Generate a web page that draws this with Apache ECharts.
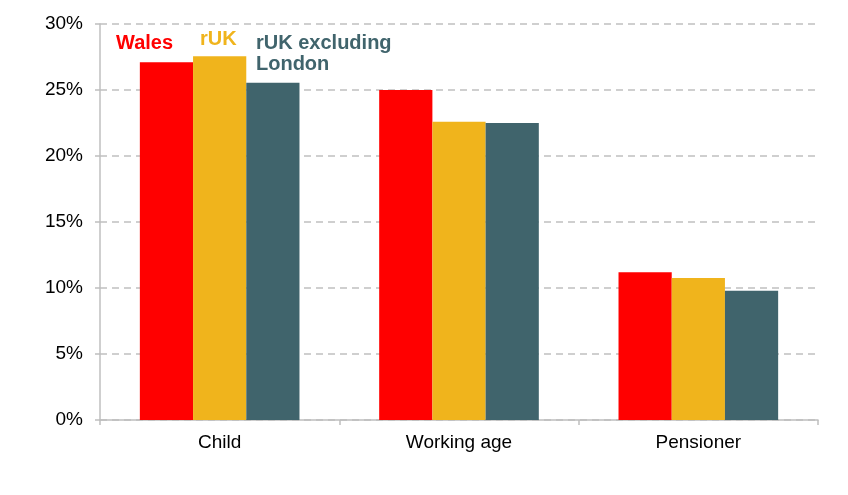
<!DOCTYPE html>
<html>
<head>
<meta charset="utf-8">
<script src="https://cdn.jsdelivr.net/npm/echarts@6/dist/echarts.min.js"></script>
<style>html,body{margin:0;padding:0;background:#fff;}#c{width:848px;height:495px;}</style>
</head>
<body>
<div id="c"></div>
<script>
var categories = ['Child', 'Working age', 'Pensioner'];
var seriesNames = ['Wales', 'rUK', 'rUK excluding\nLondon'];
var wales = [27.1, 25.0, 11.2];
var ruk = [27.55, 22.6, 10.75];
var rukExLondon = [25.55, 22.5, 9.8];
var yTicks = [0, 5, 10, 15, 20, 25, 30];

var colors = ['#FF0000', '#F0B41C', '#40646C'];
var font = 'Liberation Sans, Arial, sans-serif';

var chart = echarts.init(document.getElementById('c'), null, {renderer: 'canvas'});
chart.setOption({
  animation: false,
  grid: {left: 100, right: 30, top: 24, bottom: 75, containLabel: false},
  xAxis: {
    type: 'category',
    data: categories,
    axisLine: {show: true, lineStyle: {color: '#bfbfbf', width: 1.5}},
    axisTick: {show: true, alignWithLabel: false, length: 5, lineStyle: {color: '#bfbfbf', width: 1.5}},
    axisLabel: {color: '#000', fontSize: 19, fontFamily: font, margin: 13}
  },
  yAxis: {
    type: 'value',
    min: yTicks[0],
    max: yTicks[yTicks.length - 1],
    interval: yTicks[1] - yTicks[0],
    axisLine: {show: true, lineStyle: {color: '#bfbfbf', width: 1.5}},
    axisTick: {show: true, length: 5, lineStyle: {color: '#bfbfbf', width: 1.5}},
    axisLabel: {color: '#000', fontSize: 19, fontFamily: font, margin: 17, formatter: '{value}%'},
    splitLine: {show: true, lineStyle: {color: '#c0c0c0', width: 1.5, type: [7, 5]}}
  },
  series: [
    {name: seriesNames[0], type: 'bar', data: wales, barGap: '0%', barCategoryGap: '33.3%', itemStyle: {color: colors[0]}},
    {name: seriesNames[1], type: 'bar', data: ruk, barGap: '0%', barCategoryGap: '33.3%', itemStyle: {color: colors[1]}},
    {name: seriesNames[2], type: 'bar', data: rukExLondon, barGap: '0%', barCategoryGap: '33.3%', itemStyle: {color: colors[2]}}
  ],
  graphic: [
    {type: 'text', left: 116, top: 33, style: {text: seriesNames[0], fill: colors[0], font: 'bold 20px ' + font}},
    {type: 'text', left: 200, top: 29, style: {text: seriesNames[1], fill: colors[1], font: 'bold 20px ' + font}},
    {type: 'text', left: 256, top: 33, style: {text: seriesNames[2], fill: colors[2], font: 'bold 20px ' + font, lineHeight: 21}}
  ]
});
</script>
</body>
</html>
